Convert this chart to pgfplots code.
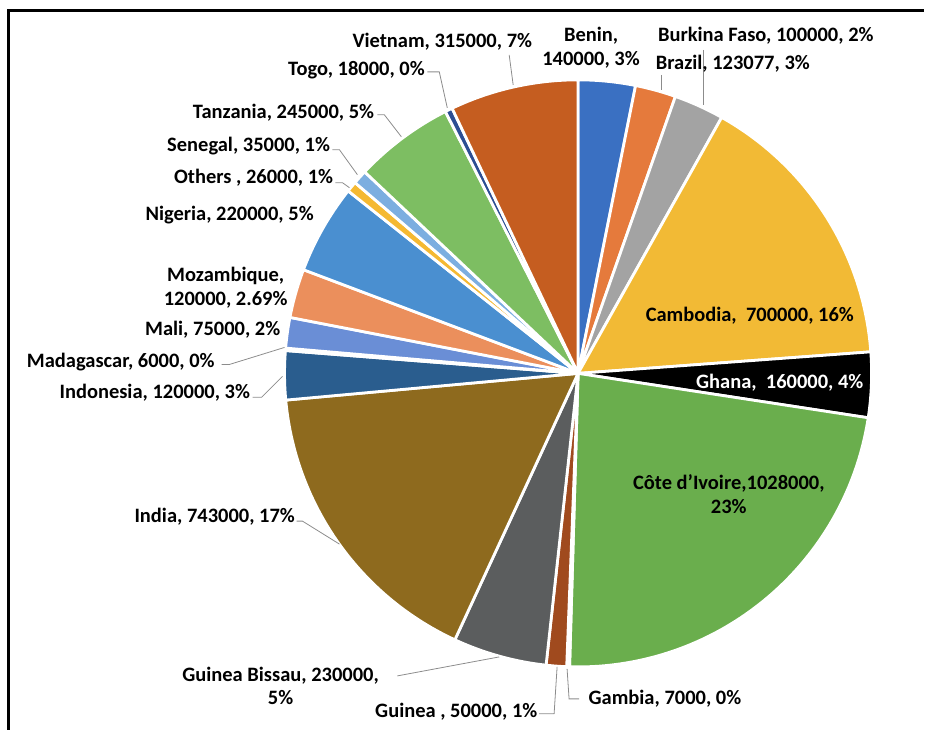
\documentclass[border=0pt]{standalone}
\usepackage{fontspec}
\setmainfont{Carlito}
\usepackage{pgfplots}
\usepackage{pgfplotstable}
\pgfplotsset{compat=1.18}

\definecolor{s0}{HTML}{3A70C2}
\definecolor{s1}{HTML}{E57A3C}
\definecolor{s2}{HTML}{A3A3A3}
\definecolor{s3}{HTML}{F2BA35}
\definecolor{s4}{HTML}{000000}
\definecolor{s5}{HTML}{6AAE4D}
\definecolor{s6}{HTML}{2E5C8F}
\definecolor{s7}{HTML}{A04A1E}
\definecolor{s8}{HTML}{5B5D5E}
\definecolor{s9}{HTML}{8E6A1E}
\definecolor{s10}{HTML}{2A5D8E}
\definecolor{s11}{HTML}{3F6F3A}
\definecolor{s12}{HTML}{6A8ED6}
\definecolor{s13}{HTML}{EB8F5C}
\definecolor{s14}{HTML}{4A8FD0}
\definecolor{s15}{HTML}{F5B932}
\definecolor{s16}{HTML}{7CAEE0}
\definecolor{s17}{HTML}{7DBE62}
\definecolor{s18}{HTML}{2C4E93}
\definecolor{s19}{HTML}{C55D20}
\definecolor{leader}{HTML}{8C8C8C}

\pgfplotstableread[col sep=comma]{
name,value
Benin,140000
Burkina Faso,100000
Brazil,123077
Cambodia,700000
Ghana,160000
Cote d'Ivoire,1028000
Gambia,7000
Guinea,50000
Guinea Bissau,230000
India,743000
Indonesia,120000
Madagascar,6000
Mali,75000
Mozambique,120000
Nigeria,220000
Others,26000
Senegal,35000
Tanzania,245000
Togo,18000
Vietnam,315000
}\piedata

\begin{document}
\begin{tikzpicture}
\begin{axis}[hide axis, x=1pt, y=1pt, xmin=0, xmax=925, ymin=0, ymax=731,
  clip=false, scale only axis]
\path (axis cs:0,0) rectangle (axis cs:925,731);
% frame
\draw[black, line width=3pt] (axis cs:9,0) -- (axis cs:9,720) -- (axis cs:925,720);

% total
\def\total{0}
\pgfplotsforeachungrouped \i in {0,...,19}{%
  \pgfplotstablegetelem{\i}{value}\of\piedata
  \xdef\total{\fpeval{\total+\pgfplotsretval}}%
}
\def\cum{0}
\pgfplotsforeachungrouped \i in {0,...,19}{%
  \pgfplotstablegetelem{\i}{value}\of\piedata
  \edef\v{\pgfplotsretval}%
  \edef\a{\fpeval{round(90-360*\cum/\total,4)}}%
  \edef\b{\fpeval{round(90-360*(\cum+\v)/\total,4)}}%
  \edef\tmp{\noexpand\addplot[draw=white, line width=2.8pt, line join=round, fill=s\i,
     domain=\b:\a, samples=60, variable=\noexpand\t]
     ({579+294*cos(\noexpand\t)},{357+294*sin(\noexpand\t)}) -- (axis cs:579,357) -- cycle;}%
  \tmp
  \xdef\cum{\fpeval{\cum+\v}}%
}

% leader lines
\begin{scope}[leader, line width=0.8pt]
\draw (axis cs:510,676) -- (axis cs:514,646);
\draw (axis cs:428,659) -- (axis cs:440,659) -- (axis cs:448,623);
\draw (axis cs:378,616) -- (axis cs:385,616) -- (axis cs:402,594);
\draw (axis cs:333,581) -- (axis cs:340,581) -- (axis cs:358,556);
\draw (axis cs:336,548) -- (axis cs:343,548) -- (axis cs:350,543);
\draw (axis cs:705,681) -- (axis cs:705,626);
\draw (axis cs:662,656) -- (axis cs:662,641);
\draw (axis cs:297,209) -- (axis cs:303,209) -- (axis cs:340,186);
\draw (axis cs:253,333) -- (axis cs:262,333) -- (axis cs:283,354);
\draw (axis cs:222,366) -- (axis cs:230,366) -- (axis cs:285,383);
\draw (axis cs:398,54) -- (axis cs:500,73);
\draw (axis cs:540,16) -- (axis cs:555,16) -- (axis cs:558,63);
\draw (axis cs:580,31) -- (axis cs:570,31) -- (axis cs:568,61);
\end{scope}

% labels
\begin{scope}[every node/.style={font=\bfseries\fontsize{20.5}{23.5}\selectfont, text=black, inner sep=0pt, align=center}]
\node at (axis cs:443,689) {Vietnam, 315000, 7\%};
\node at (axis cs:592,683) {Benin,\\140000, 3\%};
\node at (axis cs:767,695) {Burkina Faso, 100000, 2\%};
\node at (axis cs:734,667) {Brazil, 123077, 3\%};
\node at (axis cs:357,661) {Togo, 18000, 0\%};
\node at (axis cs:284,618) {Tanzania, 245000, 5\%};
\node at (axis cs:249,585) {Senegal, 35000, 1\%};
\node at (axis cs:254,553) {Others , 26000, 1\%};
\node at (axis cs:230,516) {Nigeria, 220000, 5\%};
\node at (axis cs:226,443) {Mozambique,\\120000, 2.69\%};
\node at (axis cs:213,401) {Mali, 75000, 2\%};
\node at (axis cs:121,368) {Madagascar, 6000, 0\%};
\node at (axis cs:155,338) {Indonesia, 120000, 3\%};
\node at (axis cs:215,213) {India, 743000, 17\%};
\node at (axis cs:281,44) {Guinea Bissau, 230000,\\5\%};
\node at (axis cs:457,18) {Guinea , 50000, 1\%};
\node at (axis cs:666,31) {Gambia, 7000, 0\%};
\node at (axis cs:751,415) {Cambodia,\ \ 700000, 16\%};
\node[text=white] at (axis cs:781,348) {Ghana,\ \ 160000, 4\%};
\node at (axis cs:730,236) {Côte d’Ivoire,1028000,\\23\%};
\end{scope}
\end{axis}
\end{tikzpicture}
\end{document}
